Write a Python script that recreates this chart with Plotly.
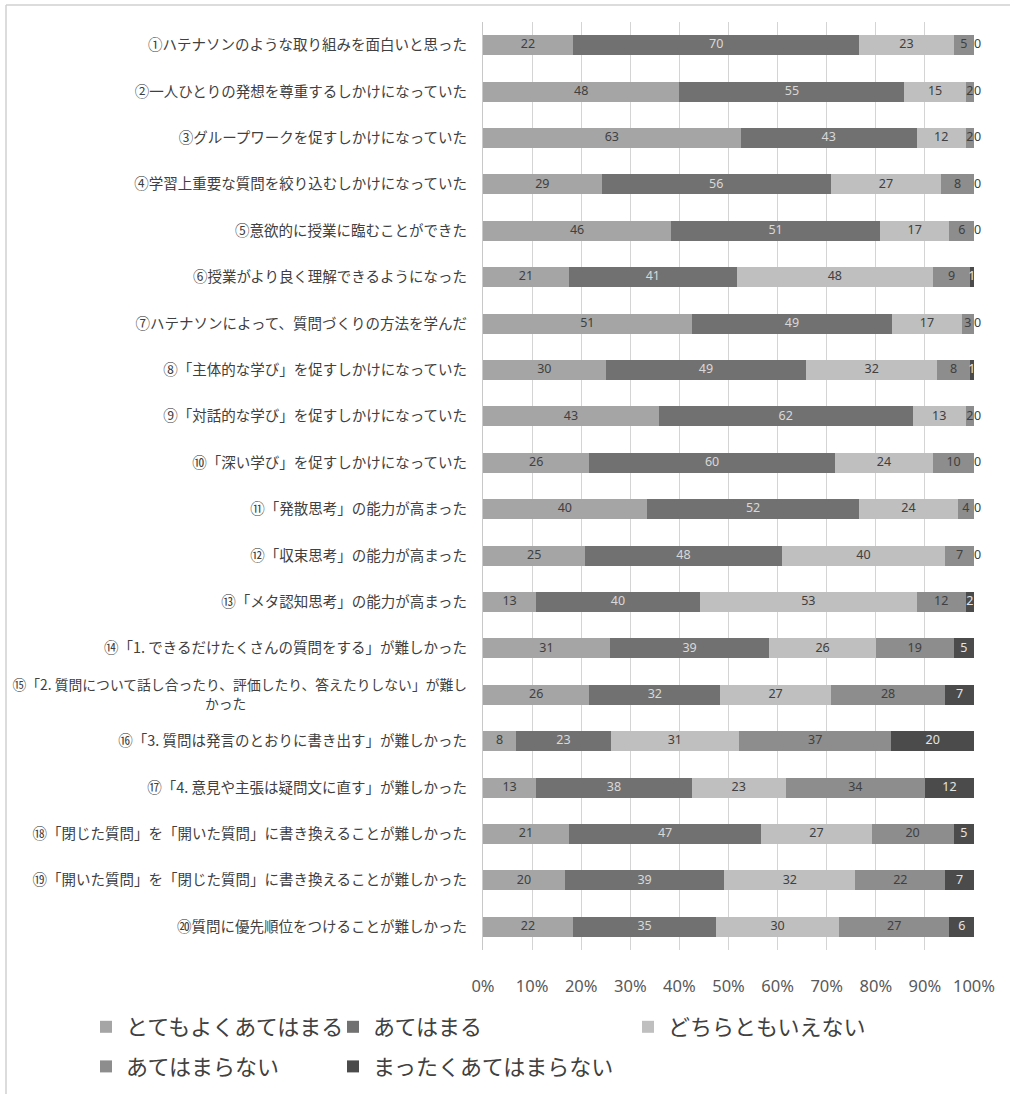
import plotly.graph_objects as go

categories = [
    "①ハテナソンのような取り組みを面白いと思った",
    "②一人ひとりの発想を尊重するしかけになっていた",
    "③グループワークを促すしかけになっていた",
    "④学習上重要な質問を絞り込むしかけになっていた",
    "⑤意欲的に授業に臨むことができた",
    "⑥授業がより良く理解できるようになった",
    "⑦ハテナソンによって、質問づくりの方法を学んだ",
    "⑧「主体的な学び」を促すしかけになっていた",
    "⑨「対話的な学び」を促すしかけになっていた",
    "⑩「深い学び」を促すしかけになっていた",
    "⑪「発散思考」の能力が高まった",
    "⑫「収束思考」の能力が高まった",
    "⑬「メタ認知思考」の能力が高まった",
    "⑭「1. できるだけたくさんの質問をする」が難しかった",
    "<span style=\"font-size:13.8px\">⑮「2. 質問について話し合ったり、評価したり、答えたりしない」が難し<br>かった" + "\u3000" * 16 + "\u200b</span>",
    "⑯「3. 質問は発言のとおりに書き出す」が難しかった",
    "⑰「4. 意見や主張は疑問文に直す」が難しかった",
    "⑱「閉じた質問」を「開いた質問」に書き換えることが難しかった",
    "⑲「開いた質問」を「閉じた質問」に書き換えることが難しかった",
    "⑳質問に優先順位をつけることが難しかった",
]

series_names = ["とてもよくあてはまる", "あてはまる", "どちらともいえない", "あてはまらない", "まったくあてはまらない"]

very_true = [22, 48, 63, 29, 46, 21, 51, 30, 43, 26, 40, 25, 13, 31, 26, 8, 13, 21, 20, 22]
true_ = [70, 55, 43, 56, 51, 41, 49, 49, 62, 60, 52, 48, 40, 39, 32, 23, 38, 47, 39, 35]
neutral = [23, 15, 12, 27, 17, 48, 17, 32, 13, 24, 24, 40, 53, 26, 27, 31, 23, 27, 32, 30]
not_true = [5, 2, 2, 8, 6, 9, 3, 8, 2, 10, 4, 7, 12, 19, 28, 37, 34, 20, 22, 27]
not_at_all = [0, 0, 0, 0, 0, 1, 0, 1, 0, 0, 0, 0, 2, 5, 7, 20, 12, 5, 7, 6]

tick_vals = [0, 10, 20, 30, 40, 50, 60, 70, 80, 90, 100]
tick_text = ["0%", "10%", "20%", "30%", "40%", "50%", "60%", "70%", "80%", "90%", "100%"]

all_series = [very_true, true_, neutral, not_true, not_at_all]
colors = ["#a5a5a5", "#717171", "#bfbfbf", "#8d8d8d", "#4b4b4b"]
text_colors = ["#404040", "#d9d9d9", "#404040", "#404040", "#e4e4e4"]
legend_ids = ["legend", "legend2", "legend3", "legend", "legend2"]

totals = [sum(s[j] for s in all_series) for j in range(len(categories))]

fig = go.Figure()
for i, (name, vals) in enumerate(zip(series_names, all_series)):
    fig.add_trace(go.Bar(
        y=categories, x=vals, name=name, orientation="h",
        marker=dict(color=colors[i], line=dict(width=0)),
        legend=legend_ids[i], legendgroup=name,
        hoverinfo="skip",
    ))

# data labels placed at segment centres (percent scale)
cum = [0.0] * len(categories)
for i, vals in enumerate(all_series):
    xs, pos, cols = [], [], []
    for j, v in enumerate(vals):
        p = v / totals[j] * 100
        xs.append(round(cum[j] + p / 2, 4))
        cum[j] += p
        if v == 0:
            pos.append("middle right")
            cols.append("#404040")
        else:
            pos.append("middle center")
            cols.append(text_colors[i])
    fig.add_trace(go.Scatter(
        x=xs, y=categories, mode="text", text=[str(v) for v in vals],
        textposition=pos,
        textfont=dict(color=cols, size=12.5, family="Liberation Sans Narrow, Noto Sans"),
        showlegend=False, hoverinfo="skip", cliponaxis=False,
    ))

legend_common = dict(
    orientation="v", bgcolor="rgba(0,0,0,0)", borderwidth=0,
    font=dict(size=22, color="#404040", family="Noto Sans CJK JP"),
    traceorder="grouped", tracegroupgap=8,
    xanchor="left", yanchor="top", itemclick=False, itemdoubleclick=False,
)

W, H = 1010, 1094
L, R, T, B = 483, 36, 22, 144
pw = W - L - R
ph = H - T - B

def px(x):
    return (x - L) / pw

def py(y):
    return (H - B - y) / ph

fig.update_layout(
    width=W, height=H,
    margin=dict(l=L, r=R, t=T, b=B, pad=0, autoexpand=False),
    barmode="stack", barnorm="percent", bargap=0.57,
    paper_bgcolor="white", plot_bgcolor="white",
    font=dict(family="Noto Sans CJK JP", color="#404040"),
    xaxis=dict(
        range=[0, 100], tickvals=tick_vals, ticktext=tick_text,
        showgrid=True, gridcolor="#d4d4d4", gridwidth=1,
        zeroline=False, showline=False, ticks="",
        tickfont=dict(size=16.5, color="#595959", family="Noto Sans"),
        ticklabelstandoff=24, fixedrange=True, automargin=False,
    ),
    yaxis=dict(
        range=[len(categories) - 0.5, -0.5], autorange=False,
        showgrid=False, zeroline=False,
        showline=True, linecolor="#c8c8c8", linewidth=1, ticks="",
        tickfont=dict(size=14.5, color="#404040", family="Noto Sans CJK JP"),
        ticklabelstandoff=12, fixedrange=True, automargin=False,
    ),
    legend=dict(legend_common, x=px(86), y=py(1006)),
    legend2=dict(legend_common, x=px(333), y=py(1006)),
    legend3=dict(legend_common, x=px(628), y=py(1006)),
    showlegend=True,
    shapes=[
        dict(type="line", xref="paper", yref="paper",
             x0=px(6), x1=px(1012), y0=py(5), y1=py(5),
             line=dict(color="#d0d0d0", width=1.5)),
        dict(type="line", xref="paper", yref="paper",
             x0=px(6), x1=px(6), y0=py(5), y1=py(1100),
             line=dict(color="#d0d0d0", width=1.5)),
    ],
)

fig.write_html("out.html")
